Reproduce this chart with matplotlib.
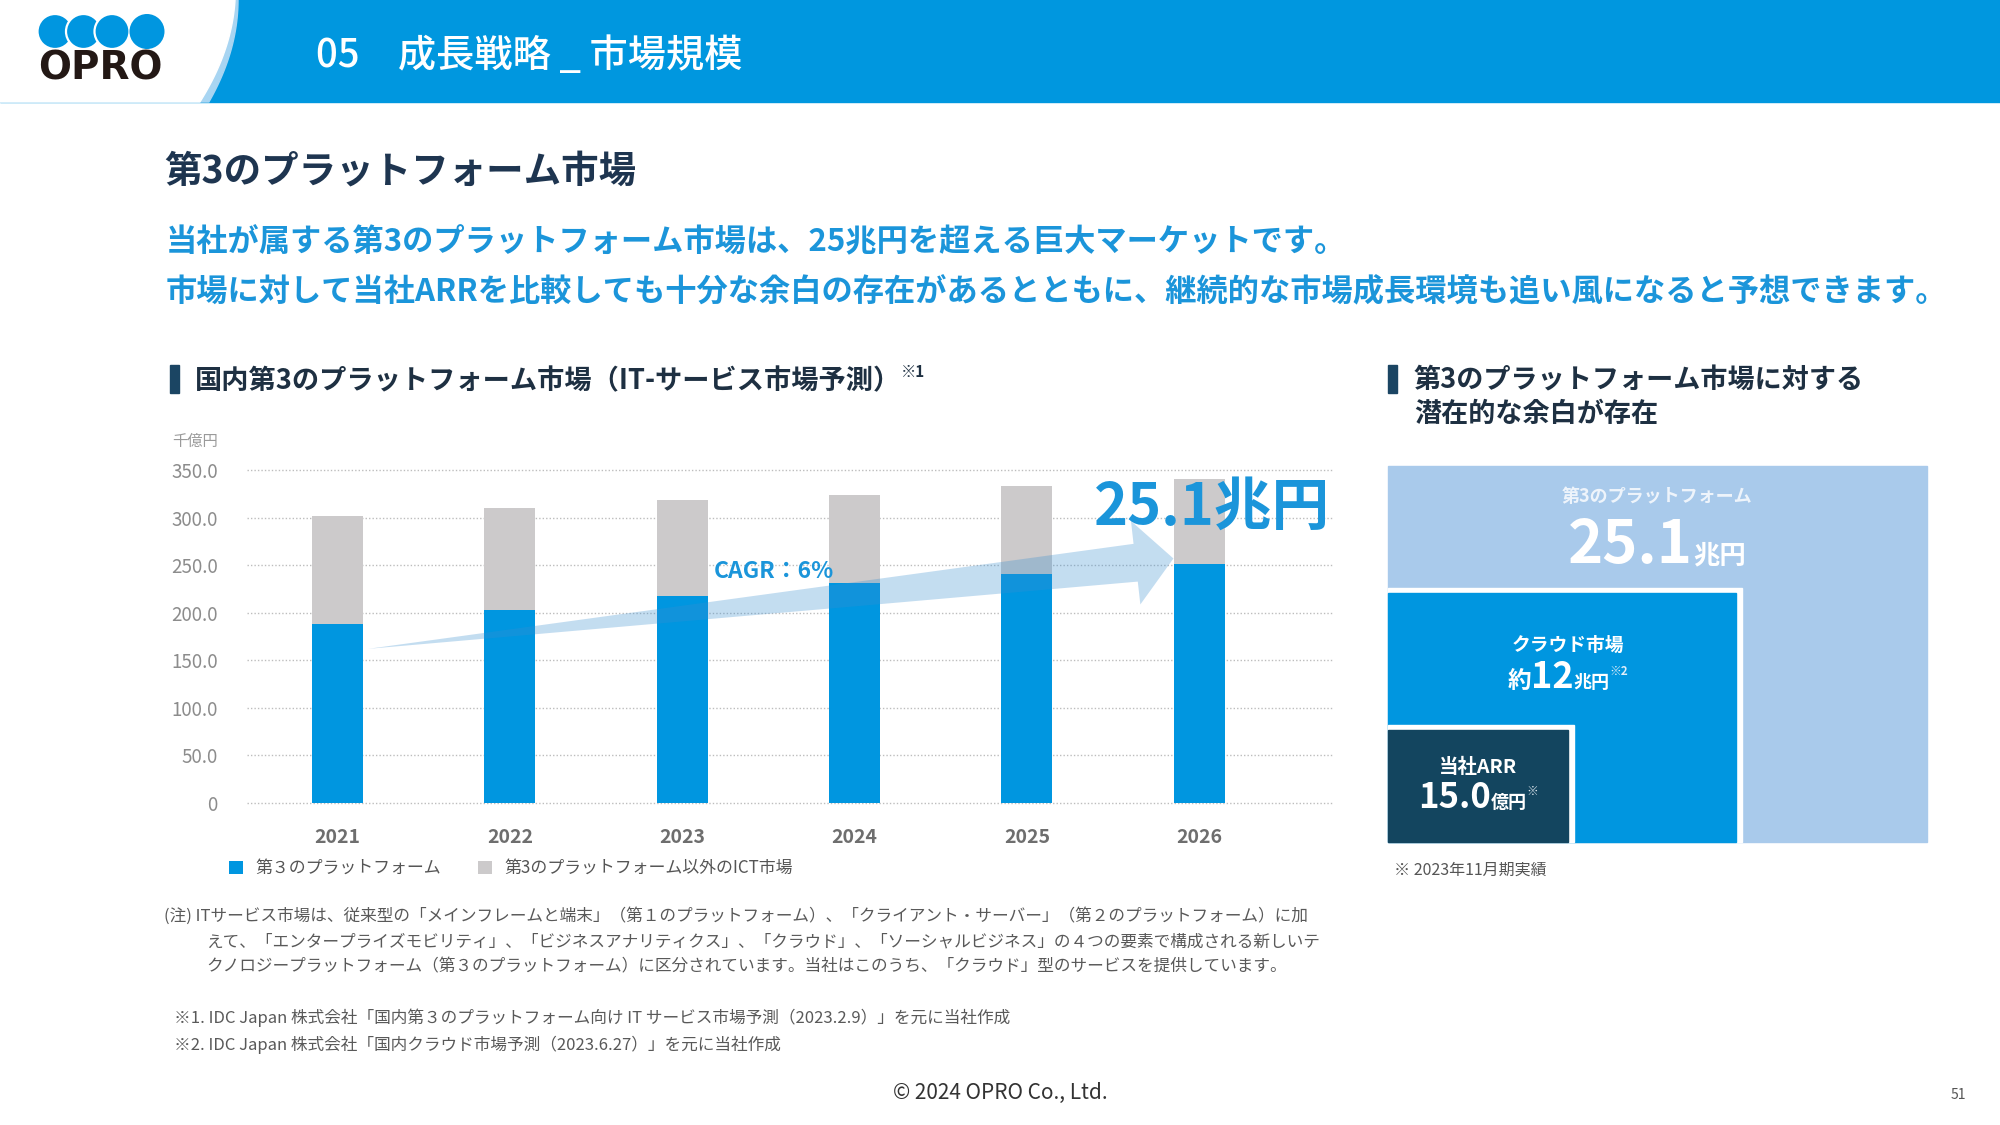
import matplotlib
matplotlib.use('Agg')
import matplotlib.pyplot as plt
from matplotlib.patches import Rectangle, Polygon, Circle
import numpy as np

plt.rcParams['font.family'] = ['Noto Sans CJK JP', 'DejaVu Sans']

# ---------------- data ----------------
years = ['2021', '2022', '2023', '2024', '2025', '2026']
third_platform = [188, 203, 218, 231, 241, 251]      # 千億円
other_ict = [114, 107, 100, 93, 92, 90]              # 千億円
yticks = [0, 50, 100, 150, 200, 250, 300, 350]
ytick_labels = ['0', '50.0', '100.0', '150.0', '200.0', '250.0', '300.0', '350.0']
legend_labels = ['第３のプラットフォーム', '第3のプラットフォーム以外のICT市場']

BLUE = '#0096E0'
GRAY = '#CCCACB'
TXTBLUE = '#1B95DA'
NAVY = '#1E3550'
DARK = '#13455F'
LIGHT = '#A9CAEB'

W, H = 2000, 1125
fig = plt.figure(figsize=(20, 11.25), dpi=100)

# background axes in pixel coordinates (y downward)
bg = fig.add_axes([0, 0, 1, 1], zorder=0)
bg.set_xlim(0, W)
bg.set_ylim(H, 0)
bg.axis('off')

renderer = fig.canvas.get_renderer()


def rich(x, y, parts, ha='center', axes=None, zorder=5):
    axes = axes or bg
    arts = []
    total = 0
    for s, size, weight, color, dy in parts:
        t = axes.text(0, 0, s, fontsize=size, fontweight=weight, color=color,
                      ha='left', va='baseline', transform=bg.transData, zorder=zorder)
        w = t.get_window_extent(renderer).width
        arts.append((t, w, dy))
        total += w
    x0 = x - total / 2 if ha == 'center' else x
    for t, w, dy in arts:
        t.set_position((x0, y - dy))
        x0 += w


# ---------------- header ----------------
bg.add_patch(Rectangle((0, 0), W, 102, color='#0097DF', zorder=1))
ys = np.linspace(0, 102, 40)
xb = 238 - 0.0028 * ys ** 2
wst = 3 + 6 * ys / 102
stripe = [(0, 0)] + list(zip(xb, ys)) + [(0, 102)]
bg.add_patch(Polygon(stripe, closed=True, color='#A8D5F2', zorder=2))
white = [(0, 0)] + list(zip(xb - wst, ys)) + [(0, 102)]
bg.add_patch(Polygon(white, closed=True, color='white', zorder=3))
for cx in [55, 83.5, 112]:
    bg.add_patch(Circle((cx, 31.5), 17.5, facecolor='#0096E0', edgecolor='white', lw=1.6, zorder=4))
bg.add_patch(Circle((147, 31.5), 17.5, facecolor='#0096E0', edgecolor='none', zorder=4))
bg.text(100, 68, 'OPRO', family='DejaVu Sans', fontsize=28, fontweight='heavy', color='#231815',
        ha='center', va='center', zorder=5)
bg.text(316, 56, '05　成長戦略 _ 市場規模', fontsize=27.5, fontweight='medium', color='white',
        ha='left', va='center', zorder=5)

# ---------------- titles ----------------
bg.text(164, 171, '第3のプラットフォーム市場', fontsize=27, fontweight='bold', color=NAVY,
        ha='left', va='center')
bg.text(166, 242, '当社が属する第3のプラットフォーム市場は、25兆円を超える巨大マーケットです。',
        fontsize=22.5, fontweight='bold', color=TXTBLUE, ha='left', va='center')
bg.text(166, 292, '市場に対して当社ARRを比較しても十分な余白の存在があるとともに、継続的な市場成長環境も追い風になると予想できます。',
        fontsize=22.5, fontweight='bold', color=TXTBLUE, ha='left', va='center')

# sub titles
bg.add_patch(Rectangle((170, 365), 9, 28, color='#1B4563'))
rich(195, 389, [('国内第3のプラットフォーム市場（IT-サービス市場予測）', 19.6, 'bold', '#1E3042', 0),
                ('※1', 11, 'bold', '#1E3042', 12)], ha='left')
bg.add_patch(Rectangle((1388, 365), 9, 28, color='#1B4563'))
bg.text(1414, 380, '第3のプラットフォーム市場に対する', fontsize=19.5, fontweight='bold', color='#1E3042',
        ha='left', va='center')
bg.text(1414, 414, '潜在的な余白が存在', fontsize=19.5, fontweight='bold', color='#1E3042',
        ha='left', va='center')

# ---------------- bar chart ----------------
ax = fig.add_axes([247 / W, 1 - 803 / H, (1332 - 247) / W, (803 - 470) / H], zorder=2)
ax.set_facecolor('none')
x = np.arange(len(years))
b1 = ax.bar(x, third_platform, width=0.296, color=BLUE, zorder=2, label=legend_labels[0])
b2 = ax.bar(x, other_ict, bottom=third_platform, width=0.296, color=GRAY, zorder=2,
            label=legend_labels[1])
ax.set_xlim(-0.525, 5.77)
ax.set_ylim(0, 350)
ax.set_yticks(yticks)
ax.set_yticklabels(ytick_labels)
ax.set_xticks(x)
ax.set_xticklabels(years, fontweight='bold')
ax.yaxis.grid(True, linestyle=(0, (1, 1.5)), color='#BDBDBD', linewidth=1)
for gl in ax.get_ygridlines():
    gl.set_clip_on(False)
ax.set_axisbelow(True)
for s in ax.spines.values():
    s.set_visible(False)
ax.tick_params(axis='y', length=0, pad=21, labelsize=13.5, labelcolor='#8C8C8C')
ax.tick_params(axis='x', length=0, pad=18, labelsize=14, labelcolor='#6E6E6E')

bg.text(172, 441, '千億円', fontsize=11, color='#9A9A9A', ha='left', va='center')

ax.legend([b1, b2], legend_labels, ncol=2, loc='center left',
          bbox_to_anchor=(229 / W, 1 - 868 / H), bbox_transform=fig.transFigure,
          frameon=False, fontsize=12.2, handlelength=0.8, handleheight=0.8,
          handletextpad=0.75, columnspacing=2.2, borderpad=0, borderaxespad=0,
          labelcolor='#555555')

# growth arrow (annotation) anchored on chart data
tail = ax.transData.transform((0.177, 162))
tip = ax.transData.transform((4.85, 257))
tail = bg.transData.inverted().transform(tail)
tip = bg.transData.inverted().transform(tip)
d = tip - tail
u = d / np.hypot(*d)
n = np.array([u[1], -u[0]])
base = tip - 38 * u
shaft_hw, head_hw = 19, 42
arrow_pts = [tail, base + shaft_hw * n, base + head_hw * n, tip,
             base - head_hw * n, base - shaft_hw * n]
ax.add_patch(Polygon(arrow_pts, closed=True, transform=bg.transData, facecolor='#3A8FD0',
                     alpha=0.3, edgecolor='none', zorder=3))

ax.text(714, 572, 'CAGR：6%', transform=bg.transData, fontsize=16.5, fontweight='bold',
        color=TXTBLUE, ha='left', va='center', zorder=5)
ax.text(1094, 508, '25.1兆円', transform=bg.transData, fontsize=41.5, fontweight='bold',
        color=TXTBLUE, ha='left', va='center', zorder=6)

# ---------------- right panel ----------------
bg.add_patch(Rectangle((1388, 466), 539, 376, color=LIGHT, zorder=1))
bg.add_patch(Rectangle((1388, 588), 354, 254, color='white', zorder=2))
bg.add_patch(Rectangle((1388, 593), 348, 249, color=BLUE, zorder=3))
bg.add_patch(Rectangle((1388, 725), 186, 117, color='white', zorder=4))
bg.add_patch(Rectangle((1388, 730), 180, 112, color=DARK, zorder=5))

bg.text(1657, 497, '第3のプラットフォーム', fontsize=13, fontweight='bold', color='#EEF4FB',
        ha='center', va='center', zorder=6)
rich(1657, 563, [('25.1', 43, 'bold', 'white', 0), ('兆円', 19, 'bold', 'white', 0)], zorder=6)
bg.text(1568, 645, 'クラウド市場', fontsize=13.5, fontweight='bold', color='white',
        ha='center', va='center', zorder=6)
rich(1568, 688, [('約', 17, 'bold', 'white', 0), ('12', 26, 'bold', 'white', 0),
                 ('兆円', 13, 'bold', 'white', 0), ('※2', 8.5, 'bold', '#E0EEF9', 13)], zorder=6)
bg.text(1478, 767, '当社ARR', fontsize=14, fontweight='bold', color='white',
        ha='center', va='center', zorder=6)
rich(1478, 808, [('15.0', 25, 'bold', 'white', 0), ('億円', 13, 'bold', 'white', 0),
                 ('※', 8.5, 'bold', '#DDE6EE', 13)], zorder=6)
bg.text(1394, 870, '※ 2023年11月期実績', fontsize=11.5, color='#555555', ha='left', va='center')

# ---------------- footnotes ----------------
FN = '#595959'
FS = 12
bg.text(164, 916, '(注) ITサービス市場は、従来型の「メインフレームと端末」（第１のプラットフォーム）、「クライアント・サーバー」（第２のプラットフォーム）に加',
        fontsize=FS, color=FN, ha='left', va='center')
bg.text(206, 942, 'えて、「エンタープライズモビリティ」、「ビジネスアナリティクス」、「クラウド」、「ソーシャルビジネス」の４つの要素で構成される新しいテ',
        fontsize=FS, color=FN, ha='left', va='center')
bg.text(206, 967, 'クノロジープラットフォーム（第３のプラットフォーム）に区分されています。当社はこのうち、「クラウド」型のサービスを提供しています。',
        fontsize=FS, color=FN, ha='left', va='center')
bg.text(174, 1018, '※1. IDC Japan 株式会社「国内第３のプラットフォーム向け IT サービス市場予測（2023.2.9）」を元に当社作成',
        fontsize=FS, color=FN, ha='left', va='center')
bg.text(174, 1045, '※2. IDC Japan 株式会社「国内クラウド市場予測（2023.6.27）」を元に当社作成',
        fontsize=FS, color=FN, ha='left', va='center')

bg.text(1000, 1093, '© 2024 OPRO Co., Ltd.', fontsize=15, color='#333333', ha='center', va='center')
bg.text(1958, 1095, '51', fontsize=10, color='#555555', ha='center', va='center')

fig.savefig('out.png', dpi=100)
